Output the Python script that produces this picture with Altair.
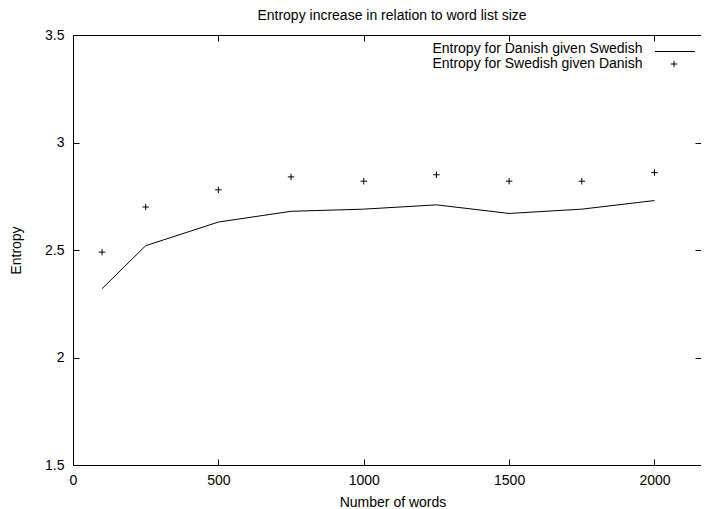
import altair as alt
import pandas as pd

# ---- data ----
words = [100, 250, 500, 750, 1000, 1250, 1500, 1750, 2000]
danish_given_swedish = [2.32, 2.52, 2.63, 2.68, 2.69, 2.71, 2.67, 2.69, 2.73]
swedish_given_danish = [2.49, 2.70, 2.78, 2.84, 2.82, 2.85, 2.82, 2.82, 2.86]
x_ticks = [0, 500, 1000, 1500, 2000]
y_ticks = [1.5, 2.0, 2.5, 3.0, 3.5]
x_domain = [0, 2160]
y_domain = [1.5, 3.5]
series_names = ["Entropy for Danish given Swedish", "Entropy for Swedish given Danish"]
title_text = "Entropy increase in relation to word list size"
x_title = "Number of words"
y_title = "Entropy"

df = pd.DataFrame({"words": words, "da": danish_given_swedish, "sv": swedish_given_danish})
leg_df = pd.DataFrame({"label": series_names})

W, H = 628, 430
FONT = "Liberation Sans"
FS = 14
PLUS = "M-1,0L1,0M0,-1L0,1"

xs = alt.Scale(domain=x_domain, nice=False, zero=False)
ys = alt.Scale(domain=y_domain, nice=False, zero=False)

common = dict(grid=False, labelFont=FONT, labelFontSize=FS, labelColor="black",
              domainColor="black", tickColor="black", labelFlush=False,
              titleFont=FONT, titleFontSize=FS, titleFontWeight="normal", titleColor="black")

base = alt.Chart(df)

line = base.mark_line(color="black", strokeWidth=1).encode(
    x=alt.X("words:Q", scale=xs, axis=alt.Axis(
        orient="bottom", values=x_ticks, format="d", ticks=False, tickSize=0, domain=True,
        labelPadding=8, title=x_title, titleY=37.5, titleX=319.5, titleBaseline="middle",
        labelOverlap=False, **common)),
    y=alt.Y("da:Q", scale=ys, axis=alt.Axis(
        orient="left", values=y_ticks, format="~g", ticks=False, tickSize=0, domain=True,
        labelPadding=9, title=y_title, titleX=-56.5, titleY=H / 2, titleAngle=270,
        titleAlign="center", titleBaseline="middle", labelOverlap=False, **common)),
)

pts = base.mark_point(shape=PLUS, filled=False, color="black", size=42,
                      strokeWidth=1, opacity=1).encode(
    x=alt.X("words:Q", scale=xs, axis=alt.Axis(
        orient="top", offset=-H, values=x_ticks, ticks=True, tickSize=6,
        domain=False, labels=False, title=None, **common)),
    y=alt.Y("sv:Q", scale=ys, axis=alt.Axis(
        orient="right", offset=-W, values=y_ticks, ticks=True, tickSize=6,
        domain=False, labels=False, title=None, **common)),
)

host = base.mark_point(opacity=0).encode(
    x=alt.X("words:Q", scale=xs, axis=alt.Axis(
        orient="bottom", offset=-H, values=x_ticks, ticks=True, tickSize=6,
        domain=True, labels=False, title=None, **common)),
    y=alt.Y("sv:Q", scale=ys, axis=alt.Axis(
        orient="left", offset=-W, values=y_ticks, ticks=True, tickSize=6,
        domain=False, labels=False, title=None, **common)),
)

leg1 = alt.Chart(leg_df.iloc[[0]]).mark_text(
    align="right", baseline="middle", font=FONT, fontSize=FS, color="black"
).encode(x=alt.value(569.5), y=alt.value(14), text="label:N")

leg2 = alt.Chart(leg_df.iloc[[1]]).mark_text(
    align="right", baseline="middle", font=FONT, fontSize=FS, color="black"
).encode(x=alt.value(569.5), y=alt.value(29), text="label:N")

leg_line = alt.Chart(leg_df.iloc[[0]]).mark_rule(color="black", strokeWidth=1).encode(
    x=alt.value(582), x2=alt.value(622), y=alt.value(16.5))

leg_plus = alt.Chart(leg_df.iloc[[1]]).mark_point(
    shape=PLUS, filled=False, color="black", size=42, strokeWidth=1, opacity=1
).encode(x=alt.value(601), y=alt.value(29))

chart = alt.layer(line, pts, host, leg1, leg2, leg_line, leg_plus).resolve_axis(
    x="independent", y="independent"
).properties(
    width=W, height=H,
    padding={"left": 65, "top": 27, "right": 0, "bottom": 44},
    autosize=alt.AutoSizeParams(type="none"),
    title=alt.TitleParams(title_text, font=FONT, fontSize=FS, fontWeight="normal",
                          color="black", anchor="middle", baseline="alphabetic",
                          offset=-6, dx=5),
).configure_view(strokeWidth=0)

chart.save("out.html", embed_options={"renderer": "svg", "actions": False})
